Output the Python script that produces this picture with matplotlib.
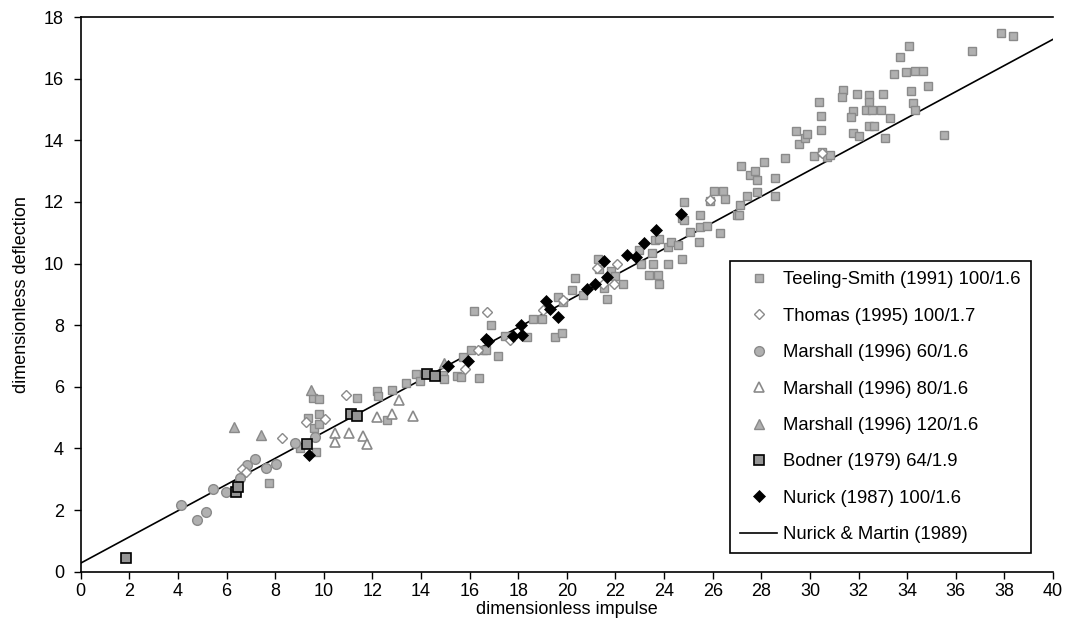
import matplotlib
matplotlib.use("Agg")
import matplotlib.pyplot as plt
import numpy as np

plt.rcParams['font.family'] = ['Liberation Sans', 'DejaVu Sans']

# Teeling-Smith (1991) 100/1.6
ts_x = [7.76, 9.02, 9.68, 9.37, 9.61, 9.82, 9.82, 9.57, 9.82, 11.36, 12.18, 12.25, 12.82, 12.60,
        13.39, 13.78, 13.96, 14.90, 14.96, 15.47, 15.65, 15.72, 16.04, 16.40, 16.17, 16.87, 16.55,
        16.67, 17.18, 17.45, 18.38, 18.60, 18.97, 19.62, 19.84, 19.52, 19.79, 20.20, 20.34, 20.68,
        21.30, 21.34, 21.80, 21.99, 21.52, 21.67, 22.29, 22.98, 23.50, 23.06, 23.56, 24.16, 23.40,
        23.77, 23.80, 23.63, 23.81, 24.16, 24.28, 24.59, 24.73, 24.84, 24.73, 24.83, 25.06, 25.46,
        25.42, 25.49, 25.76, 25.87, 26.07, 26.44, 26.49, 26.30, 27.14, 27.00, 27.08, 27.16, 27.41,
        27.52, 27.72, 27.82, 27.82, 28.12, 28.57, 28.57, 28.98, 29.44, 29.53, 29.81, 29.88, 30.15,
        30.49, 30.70, 30.84, 30.47, 30.47, 30.38, 31.36, 31.33, 31.93, 31.79, 31.67, 31.79, 32.03,
        32.43, 32.43, 32.32, 32.55, 32.41, 32.62, 32.92, 33.00, 33.28, 33.07, 33.44, 33.69, 34.06,
        33.95, 34.33, 34.67, 34.17, 34.22, 34.33, 34.86, 35.50, 36.67, 37.86, 38.35]
ts_y = [2.89, 4.01, 3.90, 4.99, 4.66, 4.79, 5.13, 5.64, 5.60, 5.63, 5.85, 5.70, 5.89, 4.93,
        6.11, 6.43, 6.18, 6.38, 6.26, 6.34, 6.33, 6.96, 7.21, 6.28, 8.45, 8.01, 7.20,
        7.21, 7.01, 7.66, 7.61, 8.21, 8.21, 8.92, 8.74, 7.60, 7.76, 9.15, 9.53, 8.97,
        10.16, 9.83, 9.77, 9.59, 9.22, 8.84, 9.32, 10.43, 10.35, 9.97, 9.97, 9.97, 9.62,
        9.62, 9.32, 10.78, 10.80, 10.54, 10.71, 10.59, 10.16, 12.01, 11.49, 11.41, 11.02, 11.58,
        10.70, 11.19, 11.22, 12.03, 12.34, 12.36, 12.09, 10.98, 11.89, 11.57, 11.57, 13.17, 12.18,
        12.87, 12.99, 12.71, 12.31, 13.30, 12.76, 12.18, 13.44, 14.29, 13.87, 14.09, 14.20, 13.49,
        13.62, 13.47, 13.52, 14.33, 14.78, 15.23, 15.62, 15.41, 15.50, 14.94, 14.74, 14.22, 14.15,
        15.47, 15.23, 14.98, 14.98, 14.47, 14.45, 14.98, 15.50, 14.72, 14.07, 16.15, 16.71, 17.05,
        16.21, 16.24, 16.24, 15.60, 15.21, 14.99, 15.77, 14.18, 16.91, 17.49, 17.40]

# Thomas (1995) 100/1.7
th_x = [6.62, 6.79, 8.27, 9.27, 10.05, 10.90, 15.79, 16.36, 16.73, 17.65, 19.00, 19.86, 21.25,
        21.48, 21.95, 22.08, 25.90, 30.49]
th_y = [3.32, 3.22, 4.33, 4.87, 4.95, 5.75, 6.58, 7.18, 8.43, 7.53, 8.49, 8.81, 9.87,
        9.32, 9.32, 10.00, 12.06, 13.60]

# Marshall (1996) 60/1.6
m60_x = [4.12, 4.80, 5.14, 5.44, 5.97, 6.57, 6.86, 7.17, 7.61, 8.02, 8.83, 9.65]
m60_y = [2.16, 1.69, 1.93, 2.69, 2.60, 3.05, 3.46, 3.67, 3.36, 3.50, 4.17, 4.36]

# Marshall (1996) 80/1.6
m80_x = [10.47, 10.47, 11.05, 11.63, 11.78, 12.21, 12.81, 13.08, 13.69]
m80_y = [4.49, 4.20, 4.50, 4.39, 4.13, 5.01, 5.13, 5.56, 5.04]

# Marshall (1996) 120/1.6
m120_x = [6.31, 7.43, 9.49, 14.95]
m120_y = [4.68, 4.43, 5.88, 6.78]

# Bodner (1979) 64/1.9
bo_x = [1.85, 6.39, 6.49, 9.30, 11.11, 11.38, 14.26, 14.58]
bo_y = [0.44, 2.58, 2.74, 4.14, 5.13, 5.04, 6.40, 6.36]

# Nurick (1987) 100/1.6
nu_x = [9.40, 15.13, 15.95, 16.68, 16.77, 17.80, 18.15, 18.11, 19.15, 19.31, 19.65, 20.82, 21.16,
        21.51, 21.67, 22.49, 22.85, 23.18, 23.68, 24.69]
nu_y = [3.80, 6.67, 6.83, 7.56, 7.50, 7.64, 7.68, 8.02, 8.78, 8.53, 8.27, 9.16, 9.32,
        10.08, 9.57, 10.27, 10.21, 10.68, 11.09, 11.62]

# Nurick & Martin (1989): delta/t = 0.425*phi + 0.277
nm_coef = (0.425, 0.277)
nm_x = [0, 40]

x_ticks = list(range(0, 41, 2))
y_ticks = list(range(0, 19, 2))

fig = plt.figure(figsize=(10.67, 6.35), dpi=100)
ax = fig.add_axes([0.0756, 0.0997, 0.9113, 0.8735])

lg = '#8a8a8a'
fg = '#b0b0b0'

ax.plot(ts_x, ts_y, ls='none', marker='s', ms=5.2, mfc=fg, mec=lg, mew=1.0,
        label='Teeling-Smith (1991) 100/1.6', zorder=3)
ax.plot(th_x, th_y, ls='none', marker='D', ms=4.6, mfc='white', mec=lg, mew=1.0,
        label='Thomas (1995) 100/1.7', zorder=4)
ax.plot(m60_x, m60_y, ls='none', marker='o', ms=7, mfc=fg, mec=lg, mew=1.0,
        label='Marshall (1996) 60/1.6', zorder=3)
ax.plot(m80_x, m80_y, ls='none', marker='^', ms=7, mfc='white', mec=lg, mew=1.2,
        label='Marshall (1996) 80/1.6', zorder=3)
ax.plot(m120_x, m120_y, ls='none', marker='^', ms=7, mfc=fg, mec=lg, mew=1.0,
        label='Marshall (1996) 120/1.6', zorder=3)
ax.plot(bo_x, bo_y, ls='none', marker='s', ms=7.5, mfc='#959595', mec='black', mew=1.2,
        label='Bodner (1979) 64/1.9', zorder=5)
ax.plot(nu_x, nu_y, ls='none', marker='D', ms=6.5, mfc='black', mec='black', mew=0.5,
        label='Nurick (1987) 100/1.6', zorder=6)
nm_y = [nm_coef[0] * v + nm_coef[1] for v in nm_x]
ax.plot(nm_x, nm_y, color='black', lw=1.2, label='Nurick & Martin (1989)', zorder=2)

ax.set_xlim(0, 40)
ax.set_ylim(0, 18)
ax.set_xticks(x_ticks)
ax.set_yticks(y_ticks)
ax.tick_params(direction='out', length=5, width=1, labelsize=13, colors='black')
ax.tick_params(axis='x', pad=3)
ax.tick_params(axis='y', pad=7)
ax.spines['right'].set_visible(False)
for side in ['left', 'bottom', 'top']:
    ax.spines[side].set_linewidth(1.2)
ax.set_xlabel('dimensionless impulse', fontsize=13, labelpad=1)
ax.set_ylabel('dimensionless deflection', fontsize=13, labelpad=10)

leg = ax.legend(loc='lower left', bbox_to_anchor=(0.668, 0.033), fontsize=13.3,
                frameon=True, fancybox=False, edgecolor='black', framealpha=1,
                labelspacing=1.05, handlelength=2.0, handletextpad=0.3,
                borderpad=0.55, borderaxespad=0)
leg.get_frame().set_linewidth(1.2)

fig.savefig('out.png', dpi=100)
